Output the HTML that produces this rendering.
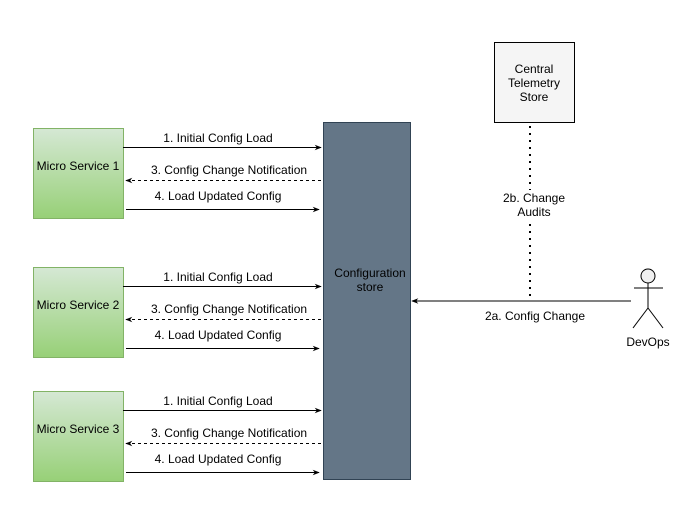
<!DOCTYPE html>
<html><head><style>body{margin:0;background:#fff}svg{display:block}text{font-family:"Liberation Sans",Arial,sans-serif;font-size:12px;fill:#000}</style></head><body>
<svg width="693" height="512" viewBox="0 0 693 512">
<defs>
<linearGradient id="g" x1="0" y1="0" x2="0" y2="1"><stop offset="0" stop-color="#d5e8d4"/><stop offset="1" stop-color="#97d077"/></linearGradient>
<marker id="a" viewBox="0 0 10 10" refX="9" refY="5" markerWidth="7" markerHeight="7" orient="auto-start-reverse"><path d="M0,1 L10,5 L0,9 L3,5 Z" fill="#000"/></marker>
</defs>
<rect x="323.5" y="122.5" width="87" height="357" fill="#647687" stroke="#314354"/>
<text x="370" y="277" text-anchor="middle">Configuration</text>
<text x="370" y="291" text-anchor="middle">store</text>
<rect x="494.5" y="42.5" width="80" height="80" fill="#f5f5f5" stroke="#000"/>
<text x="534" y="73" text-anchor="middle">Central</text>
<text x="534" y="87" text-anchor="middle">Telemetry</text>
<text x="534" y="101" text-anchor="middle">Store</text>
<line x1="530" y1="126" x2="530" y2="297" stroke="#000" stroke-width="2" stroke-dasharray="2,5"/>
<rect x="505" y="190" width="52" height="30" fill="#fff"/>
<text x="534" y="202" text-anchor="middle">2b. Change</text>
<text x="534" y="216" text-anchor="middle">Audits</text>
<line x1="631" y1="301" x2="412" y2="301" stroke="#000" marker-end="url(#a)"/>
<text x="535" y="320" text-anchor="middle">2a. Config Change</text>
<g stroke="#000" fill="none">
<circle cx="648" cy="276" r="7" fill="#f0f0f0"/>
<line x1="648" y1="283" x2="648" y2="308"/>
<line x1="634" y1="288" x2="663" y2="288"/>
<line x1="648" y1="308" x2="633" y2="328"/>
<line x1="648" y1="308" x2="663" y2="328"/>
</g>
<text x="648" y="346" text-anchor="middle">DevOps</text>
<g id="ms">
<rect x="33.5" y="128.5" width="90" height="90" fill="url(#g)" stroke="#82b366"/>
<line x1="123" y1="147.5" x2="321" y2="147.5" stroke="#000" marker-end="url(#a)"/>
<text x="218" y="142" text-anchor="middle">1. Initial Config Load</text>
<line x1="321" y1="180.5" x2="126" y2="180.5" stroke="#000" stroke-dasharray="3,3" marker-end="url(#a)"/>
<text x="229" y="174" text-anchor="middle">3. Config Change Notification</text>
<line x1="126" y1="209.5" x2="319" y2="209.5" stroke="#000" marker-end="url(#a)"/>
<text x="218" y="200" text-anchor="middle">4. Load Updated Config</text>
</g>
<text x="78" y="170" text-anchor="middle">Micro Service 1</text>
<use href="#ms" transform="translate(0,139)"/>
<text x="78" y="309" text-anchor="middle">Micro Service 2</text>
<use href="#ms" transform="translate(0,263)"/>
<text x="78" y="433" text-anchor="middle">Micro Service 3</text>
</svg>
</body></html>
